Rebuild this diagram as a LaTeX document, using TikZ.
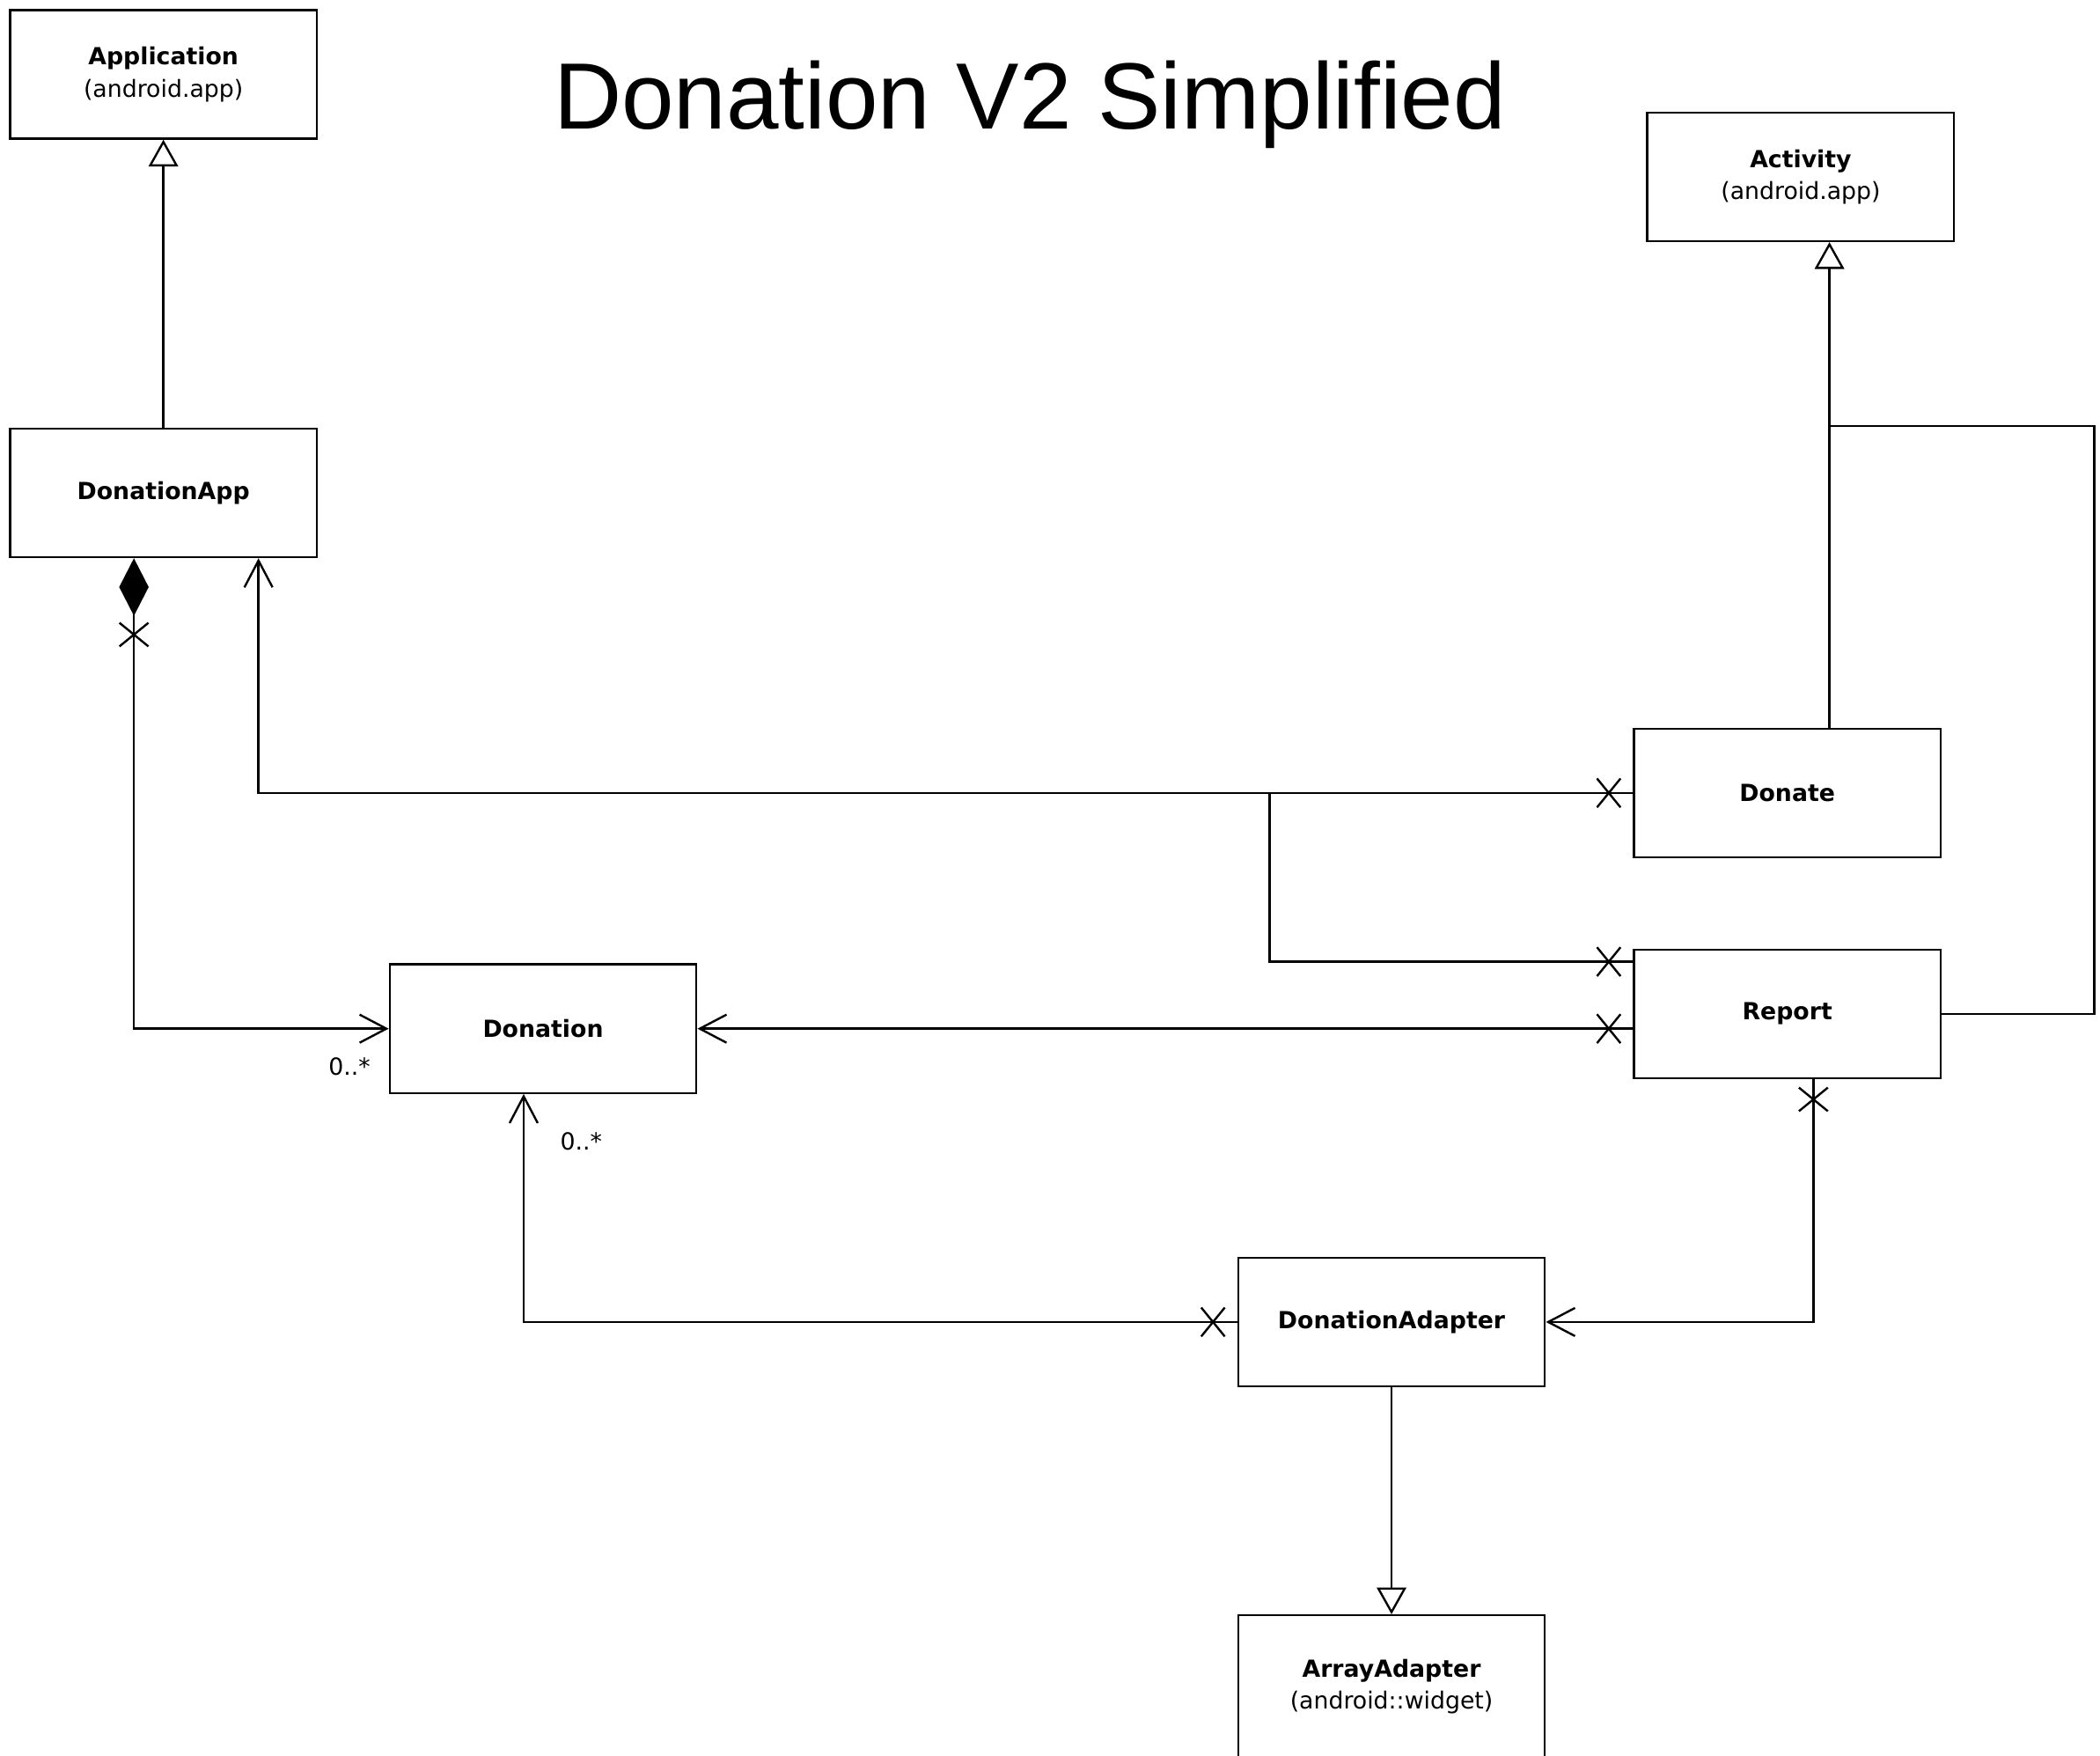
\documentclass[tikz,border=0pt]{standalone}
\usepackage{fontspec}
\setmainfont{DejaVu Sans}
\newfontfamily\titlefont{Liberation Sans}
\usetikzlibrary{arrows.meta,shapes.misc}

\tikzset{
	cls/.style={draw, line width=0.45pt, minimum width=22.9mm, minimum height=9.6mm, inner sep=0pt, align=center, font=\fontsize{5}{6.8}\selectfont},
	assoc/.style={line width=0.45pt, -{Straight Barb[length=2mm,width=2.1mm]}},
	gen/.style={line width=0.45pt, -{Triangle[open,length=2mm,width=2.2mm]}},
	comp/.style={line width=0.45pt, {Diamond[length=4.3mm,width=2.2mm]}-{Straight Barb[length=2mm,width=2.1mm]}},
	xh/.style={draw, cross out, line width=0.45pt, minimum width=1.6mm, minimum height=2mm, inner sep=0pt},
	xv/.style={draw, cross out, line width=0.45pt, minimum width=2mm, minimum height=1.6mm, inner sep=0pt},
	mult/.style={font=\fontsize{5}{6}\selectfont}
}

\begin{document}
\begin{tikzpicture}[x=0.1mm, y=-0.1mm]
\useasboundingbox (0,0) rectangle (1568,1311);
\clip (0,0) rectangle (1568,1311);

\node[anchor=base, font=\titlefont\fontsize{20}{24}\selectfont] (title) at (769,96) {Donation V2 Simplified};

% classes
\node[cls] (application) at (122,55.5) {\textbf{Application}\\(android.app)};
\node[cls] (donationapp) at (122,368) {\textbf{DonationApp}};
\node[cls] (activity) at (1344.5,132) {\textbf{Activity}\\(android.app)};
\node[cls] (donate) at (1334.5,592) {\textbf{Donate}};
\node[cls] (report) at (1334.5,757) {\textbf{Report}};
\node[cls] (donation) at (405.5,768) {\textbf{Donation}};
\node[cls] (adapter) at (1039,987) {\textbf{DonationAdapter}};
\node[cls, minimum height=10.6mm] (arrayadapter) at (1039,1259) {\textbf{ArrayAdapter}\\(android::widget)};

% inheritance
\coordinate (gd) at ([xshift=3.15mm]donate.north);
\coordinate (join) at (1366,318);
\draw[gen] (donationapp.north) -- (application.south);
\draw[gen] (gd) -- (gd |- activity.south);
\draw[line width=0.45pt] (report.east) -- ++(11.4mm,0) |- (join);
\draw[gen] (adapter.south) -- (arrayadapter.north);

% DonationApp holds the donations
\coordinate (compstart) at ([xshift=-2.2mm]donationapp.south);
\draw[comp] (compstart) |- (donation.west);
\node[xv] (x1) at ([yshift=-5.7mm]compstart) {};
\node[mult] (m1) at (261,796) {0..*};

% Donate and Report -> DonationApp
\coordinate (appin) at ([xshift=7.1mm]donationapp.south);
\coordinate (split) at (948,592);
\coordinate (rtop) at ([yshift=3.9mm]report.west);
\draw[assoc] (donate.west) -| (appin);
\draw[line width=0.45pt] (split) |- (rtop);
\node[xh] (x2) at ([xshift=-1.8mm]donate.west) {};
\node[xh] (x3) at ([xshift=-1.8mm]rtop) {};

% Report -> Donation
\coordinate (rmid) at (report.west |- donation.east);
\draw[assoc] (rmid) -- (donation.east);
\node[xh] (x4) at ([xshift=-1.8mm]rmid) {};

% Report -> DonationAdapter
\coordinate (rbot) at ([xshift=1.95mm]report.south);
\draw[assoc] (rbot) |- (adapter.east);
\node[xv] (x5) at ([yshift=-1.5mm]rbot) {};

% DonationAdapter -> Donation
\coordinate (dbot) at ([xshift=-1.45mm]donation.south);
\draw[assoc] (adapter.west) -| (dbot);
\node[xh] (x6) at ([xshift=-1.8mm]adapter.west) {};
\node[mult] (m2) at (434,852) {0..*};

\end{tikzpicture}
\end{document}
